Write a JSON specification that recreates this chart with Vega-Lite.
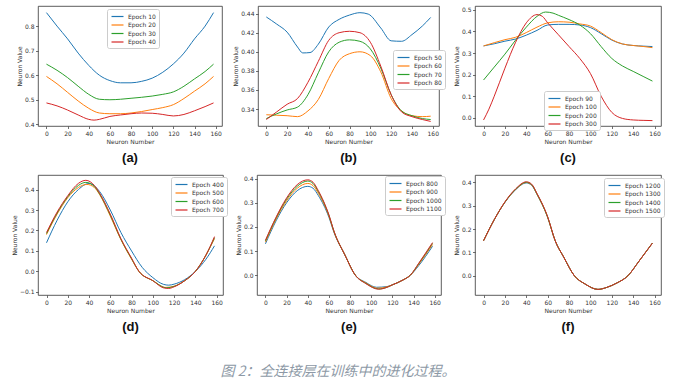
{
  "$schema": "https://vega.github.io/schema/vega-lite/v6.json",
  "padding": {"left": 11, "top": 5, "right": 30, "bottom": 10},
  "background": "white",
  "title": {"text": "图 2：全连接层在训练中的进化过程。", "orient": "bottom", "anchor": "middle", "font": "Noto Sans CJK SC", "fontSize": 14, "fontStyle": "italic", "fontWeight": "normal", "color": "#8d99a6", "offset": 31},
  "datasets": {
    "a": [
      {"x":0,"y":0.855,"s":"Epoch 10"},{"x":10,"y":0.80,"s":"Epoch 10"},{"x":20,"y":0.748,"s":"Epoch 10"},{"x":30,"y":0.69,"s":"Epoch 10"},{"x":40,"y":0.64,"s":"Epoch 10"},{"x":50,"y":0.60,"s":"Epoch 10"},{"x":60,"y":0.578,"s":"Epoch 10"},{"x":70,"y":0.569,"s":"Epoch 10"},{"x":80,"y":0.569,"s":"Epoch 10"},{"x":90,"y":0.575,"s":"Epoch 10"},{"x":100,"y":0.588,"s":"Epoch 10"},{"x":110,"y":0.612,"s":"Epoch 10"},{"x":120,"y":0.646,"s":"Epoch 10"},{"x":130,"y":0.69,"s":"Epoch 10"},{"x":140,"y":0.748,"s":"Epoch 10"},{"x":150,"y":0.80,"s":"Epoch 10"},{"x":158,"y":0.855,"s":"Epoch 10"},
      {"x":0,"y":0.595,"s":"Epoch 20"},{"x":10,"y":0.565,"s":"Epoch 20"},{"x":20,"y":0.53,"s":"Epoch 20"},{"x":30,"y":0.495,"s":"Epoch 20"},{"x":40,"y":0.465,"s":"Epoch 20"},{"x":50,"y":0.446,"s":"Epoch 20"},{"x":60,"y":0.443,"s":"Epoch 20"},{"x":70,"y":0.443,"s":"Epoch 20"},{"x":80,"y":0.446,"s":"Epoch 20"},{"x":90,"y":0.452,"s":"Epoch 20"},{"x":100,"y":0.46,"s":"Epoch 20"},{"x":110,"y":0.468,"s":"Epoch 20"},{"x":120,"y":0.48,"s":"Epoch 20"},{"x":130,"y":0.505,"s":"Epoch 20"},{"x":140,"y":0.535,"s":"Epoch 20"},{"x":150,"y":0.565,"s":"Epoch 20"},{"x":158,"y":0.595,"s":"Epoch 20"},
      {"x":0,"y":0.645,"s":"Epoch 30"},{"x":10,"y":0.62,"s":"Epoch 30"},{"x":20,"y":0.59,"s":"Epoch 30"},{"x":30,"y":0.555,"s":"Epoch 30"},{"x":40,"y":0.522,"s":"Epoch 30"},{"x":50,"y":0.502,"s":"Epoch 30"},{"x":60,"y":0.50,"s":"Epoch 30"},{"x":70,"y":0.502,"s":"Epoch 30"},{"x":80,"y":0.506,"s":"Epoch 30"},{"x":90,"y":0.51,"s":"Epoch 30"},{"x":100,"y":0.515,"s":"Epoch 30"},{"x":110,"y":0.522,"s":"Epoch 30"},{"x":120,"y":0.532,"s":"Epoch 30"},{"x":130,"y":0.555,"s":"Epoch 30"},{"x":140,"y":0.585,"s":"Epoch 30"},{"x":150,"y":0.615,"s":"Epoch 30"},{"x":158,"y":0.645,"s":"Epoch 30"},
      {"x":0,"y":0.487,"s":"Epoch 40"},{"x":10,"y":0.475,"s":"Epoch 40"},{"x":20,"y":0.458,"s":"Epoch 40"},{"x":30,"y":0.438,"s":"Epoch 40"},{"x":40,"y":0.42,"s":"Epoch 40"},{"x":45,"y":0.417,"s":"Epoch 40"},{"x":50,"y":0.42,"s":"Epoch 40"},{"x":60,"y":0.432,"s":"Epoch 40"},{"x":70,"y":0.438,"s":"Epoch 40"},{"x":80,"y":0.443,"s":"Epoch 40"},{"x":90,"y":0.446,"s":"Epoch 40"},{"x":100,"y":0.445,"s":"Epoch 40"},{"x":110,"y":0.44,"s":"Epoch 40"},{"x":120,"y":0.434,"s":"Epoch 40"},{"x":130,"y":0.44,"s":"Epoch 40"},{"x":140,"y":0.455,"s":"Epoch 40"},{"x":150,"y":0.472,"s":"Epoch 40"},{"x":158,"y":0.487,"s":"Epoch 40"}
    ],
    "b": [
      {"x":0,"y":0.4365,"s":"Epoch 50"},{"x":10,"y":0.429,"s":"Epoch 50"},{"x":20,"y":0.4206,"s":"Epoch 50"},{"x":30,"y":0.405,"s":"Epoch 50"},{"x":35,"y":0.3988,"s":"Epoch 50"},{"x":42,"y":0.3992,"s":"Epoch 50"},{"x":50,"y":0.408,"s":"Epoch 50"},{"x":60,"y":0.426,"s":"Epoch 50"},{"x":70,"y":0.434,"s":"Epoch 50"},{"x":80,"y":0.4385,"s":"Epoch 50"},{"x":90,"y":0.441,"s":"Epoch 50"},{"x":98,"y":0.4395,"s":"Epoch 50"},{"x":110,"y":0.425,"s":"Epoch 50"},{"x":120,"y":0.4115,"s":"Epoch 50"},{"x":130,"y":0.411,"s":"Epoch 50"},{"x":140,"y":0.418,"s":"Epoch 50"},{"x":150,"y":0.427,"s":"Epoch 50"},{"x":158,"y":0.436,"s":"Epoch 50"},
      {"x":0,"y":0.334,"s":"Epoch 60"},{"x":10,"y":0.3335,"s":"Epoch 60"},{"x":20,"y":0.333,"s":"Epoch 60"},{"x":30,"y":0.332,"s":"Epoch 60"},{"x":40,"y":0.338,"s":"Epoch 60"},{"x":50,"y":0.35,"s":"Epoch 60"},{"x":60,"y":0.372,"s":"Epoch 60"},{"x":70,"y":0.391,"s":"Epoch 60"},{"x":80,"y":0.398,"s":"Epoch 60"},{"x":90,"y":0.4,"s":"Epoch 60"},{"x":100,"y":0.396,"s":"Epoch 60"},{"x":110,"y":0.379,"s":"Epoch 60"},{"x":120,"y":0.351,"s":"Epoch 60"},{"x":130,"y":0.338,"s":"Epoch 60"},{"x":140,"y":0.333,"s":"Epoch 60"},{"x":150,"y":0.332,"s":"Epoch 60"},{"x":158,"y":0.3325,"s":"Epoch 60"},
      {"x":0,"y":0.330,"s":"Epoch 70"},{"x":10,"y":0.335,"s":"Epoch 70"},{"x":20,"y":0.339,"s":"Epoch 70"},{"x":30,"y":0.342,"s":"Epoch 70"},{"x":40,"y":0.355,"s":"Epoch 70"},{"x":50,"y":0.378,"s":"Epoch 70"},{"x":60,"y":0.4,"s":"Epoch 70"},{"x":70,"y":0.41,"s":"Epoch 70"},{"x":80,"y":0.4125,"s":"Epoch 70"},{"x":90,"y":0.411,"s":"Epoch 70"},{"x":100,"y":0.403,"s":"Epoch 70"},{"x":110,"y":0.383,"s":"Epoch 70"},{"x":120,"y":0.355,"s":"Epoch 70"},{"x":130,"y":0.338,"s":"Epoch 70"},{"x":140,"y":0.333,"s":"Epoch 70"},{"x":150,"y":0.330,"s":"Epoch 70"},{"x":158,"y":0.329,"s":"Epoch 70"},
      {"x":0,"y":0.329,"s":"Epoch 80"},{"x":10,"y":0.337,"s":"Epoch 80"},{"x":20,"y":0.345,"s":"Epoch 80"},{"x":30,"y":0.351,"s":"Epoch 80"},{"x":40,"y":0.368,"s":"Epoch 80"},{"x":50,"y":0.39,"s":"Epoch 80"},{"x":60,"y":0.412,"s":"Epoch 80"},{"x":70,"y":0.42,"s":"Epoch 80"},{"x":80,"y":0.4215,"s":"Epoch 80"},{"x":90,"y":0.42,"s":"Epoch 80"},{"x":100,"y":0.41,"s":"Epoch 80"},{"x":110,"y":0.385,"s":"Epoch 80"},{"x":120,"y":0.355,"s":"Epoch 80"},{"x":130,"y":0.337,"s":"Epoch 80"},{"x":140,"y":0.332,"s":"Epoch 80"},{"x":150,"y":0.329,"s":"Epoch 80"},{"x":158,"y":0.327,"s":"Epoch 80"}
    ],
    "c": [
      {"x":0,"y":0.333,"s":"Epoch 90"},{"x":10,"y":0.343,"s":"Epoch 90"},{"x":20,"y":0.355,"s":"Epoch 90"},{"x":30,"y":0.365,"s":"Epoch 90"},{"x":40,"y":0.383,"s":"Epoch 90"},{"x":50,"y":0.405,"s":"Epoch 90"},{"x":60,"y":0.43,"s":"Epoch 90"},{"x":70,"y":0.433,"s":"Epoch 90"},{"x":80,"y":0.433,"s":"Epoch 90"},{"x":90,"y":0.43,"s":"Epoch 90"},{"x":100,"y":0.418,"s":"Epoch 90"},{"x":110,"y":0.39,"s":"Epoch 90"},{"x":120,"y":0.36,"s":"Epoch 90"},{"x":130,"y":0.342,"s":"Epoch 90"},{"x":140,"y":0.335,"s":"Epoch 90"},{"x":150,"y":0.332,"s":"Epoch 90"},{"x":158,"y":0.33,"s":"Epoch 90"},
      {"x":0,"y":0.333,"s":"Epoch 100"},{"x":10,"y":0.348,"s":"Epoch 100"},{"x":20,"y":0.362,"s":"Epoch 100"},{"x":30,"y":0.373,"s":"Epoch 100"},{"x":40,"y":0.395,"s":"Epoch 100"},{"x":50,"y":0.42,"s":"Epoch 100"},{"x":60,"y":0.44,"s":"Epoch 100"},{"x":70,"y":0.445,"s":"Epoch 100"},{"x":80,"y":0.443,"s":"Epoch 100"},{"x":90,"y":0.435,"s":"Epoch 100"},{"x":100,"y":0.425,"s":"Epoch 100"},{"x":110,"y":0.395,"s":"Epoch 100"},{"x":120,"y":0.362,"s":"Epoch 100"},{"x":130,"y":0.342,"s":"Epoch 100"},{"x":140,"y":0.335,"s":"Epoch 100"},{"x":150,"y":0.33,"s":"Epoch 100"},{"x":158,"y":0.325,"s":"Epoch 100"},
      {"x":0,"y":0.175,"s":"Epoch 200"},{"x":10,"y":0.235,"s":"Epoch 200"},{"x":20,"y":0.295,"s":"Epoch 200"},{"x":30,"y":0.36,"s":"Epoch 200"},{"x":40,"y":0.42,"s":"Epoch 200"},{"x":50,"y":0.47,"s":"Epoch 200"},{"x":58,"y":0.49,"s":"Epoch 200"},{"x":65,"y":0.485,"s":"Epoch 200"},{"x":70,"y":0.475,"s":"Epoch 200"},{"x":80,"y":0.455,"s":"Epoch 200"},{"x":90,"y":0.43,"s":"Epoch 200"},{"x":100,"y":0.39,"s":"Epoch 200"},{"x":110,"y":0.33,"s":"Epoch 200"},{"x":120,"y":0.275,"s":"Epoch 200"},{"x":130,"y":0.24,"s":"Epoch 200"},{"x":140,"y":0.215,"s":"Epoch 200"},{"x":150,"y":0.19,"s":"Epoch 200"},{"x":158,"y":0.17,"s":"Epoch 200"},
      {"x":0,"y":-0.01,"s":"Epoch 300"},{"x":5,"y":0.04,"s":"Epoch 300"},{"x":10,"y":0.1,"s":"Epoch 300"},{"x":20,"y":0.23,"s":"Epoch 300"},{"x":30,"y":0.35,"s":"Epoch 300"},{"x":40,"y":0.44,"s":"Epoch 300"},{"x":50,"y":0.478,"s":"Epoch 300"},{"x":55,"y":0.47,"s":"Epoch 300"},{"x":60,"y":0.44,"s":"Epoch 300"},{"x":70,"y":0.385,"s":"Epoch 300"},{"x":80,"y":0.33,"s":"Epoch 300"},{"x":90,"y":0.275,"s":"Epoch 300"},{"x":100,"y":0.205,"s":"Epoch 300"},{"x":110,"y":0.1,"s":"Epoch 300"},{"x":120,"y":0.025,"s":"Epoch 300"},{"x":130,"y":-0.003,"s":"Epoch 300"},{"x":140,"y":-0.01,"s":"Epoch 300"},{"x":150,"y":-0.012,"s":"Epoch 300"},{"x":158,"y":-0.013,"s":"Epoch 300"}
    ],
    "d": [
      {"x":0,"y":0.14,"s":"Epoch 400"},{"x":10,"y":0.25,"s":"Epoch 400"},{"x":20,"y":0.34,"s":"Epoch 400"},{"x":30,"y":0.4,"s":"Epoch 400"},{"x":40,"y":0.43,"s":"Epoch 400"},{"x":50,"y":0.39,"s":"Epoch 400"},{"x":60,"y":0.30,"s":"Epoch 400"},{"x":70,"y":0.19,"s":"Epoch 400"},{"x":80,"y":0.1,"s":"Epoch 400"},{"x":90,"y":0.02,"s":"Epoch 400"},{"x":100,"y":-0.03,"s":"Epoch 400"},{"x":110,"y":-0.063,"s":"Epoch 400"},{"x":115,"y":-0.067,"s":"Epoch 400"},{"x":120,"y":-0.062,"s":"Epoch 400"},{"x":130,"y":-0.04,"s":"Epoch 400"},{"x":140,"y":0.0,"s":"Epoch 400"},{"x":150,"y":0.06,"s":"Epoch 400"},{"x":158,"y":0.125,"s":"Epoch 400"},
      {"x":0,"y":0.18,"s":"Epoch 500"},{"x":10,"y":0.28,"s":"Epoch 500"},{"x":20,"y":0.36,"s":"Epoch 500"},{"x":30,"y":0.41,"s":"Epoch 500"},{"x":38,"y":0.425,"s":"Epoch 500"},{"x":45,"y":0.41,"s":"Epoch 500"},{"x":50,"y":0.375,"s":"Epoch 500"},{"x":60,"y":0.27,"s":"Epoch 500"},{"x":70,"y":0.155,"s":"Epoch 500"},{"x":80,"y":0.06,"s":"Epoch 500"},{"x":87,"y":0.0,"s":"Epoch 500"},{"x":100,"y":-0.045,"s":"Epoch 500"},{"x":112,"y":-0.078,"s":"Epoch 500"},{"x":120,"y":-0.072,"s":"Epoch 500"},{"x":130,"y":-0.045,"s":"Epoch 500"},{"x":140,"y":0.0,"s":"Epoch 500"},{"x":150,"y":0.08,"s":"Epoch 500"},{"x":158,"y":0.16,"s":"Epoch 500"},
      {"x":0,"y":0.185,"s":"Epoch 600"},{"x":10,"y":0.285,"s":"Epoch 600"},{"x":20,"y":0.365,"s":"Epoch 600"},{"x":30,"y":0.42,"s":"Epoch 600"},{"x":37,"y":0.435,"s":"Epoch 600"},{"x":45,"y":0.415,"s":"Epoch 600"},{"x":50,"y":0.378,"s":"Epoch 600"},{"x":60,"y":0.275,"s":"Epoch 600"},{"x":70,"y":0.157,"s":"Epoch 600"},{"x":80,"y":0.062,"s":"Epoch 600"},{"x":87,"y":0.0,"s":"Epoch 600"},{"x":100,"y":-0.045,"s":"Epoch 600"},{"x":113,"y":-0.08,"s":"Epoch 600"},{"x":120,"y":-0.073,"s":"Epoch 600"},{"x":130,"y":-0.045,"s":"Epoch 600"},{"x":140,"y":0.0,"s":"Epoch 600"},{"x":150,"y":0.08,"s":"Epoch 600"},{"x":158,"y":0.165,"s":"Epoch 600"},
      {"x":0,"y":0.19,"s":"Epoch 700"},{"x":10,"y":0.29,"s":"Epoch 700"},{"x":20,"y":0.37,"s":"Epoch 700"},{"x":30,"y":0.43,"s":"Epoch 700"},{"x":37,"y":0.445,"s":"Epoch 700"},{"x":45,"y":0.42,"s":"Epoch 700"},{"x":50,"y":0.382,"s":"Epoch 700"},{"x":60,"y":0.28,"s":"Epoch 700"},{"x":70,"y":0.16,"s":"Epoch 700"},{"x":80,"y":0.065,"s":"Epoch 700"},{"x":87,"y":0.0,"s":"Epoch 700"},{"x":100,"y":-0.045,"s":"Epoch 700"},{"x":110,"y":-0.08,"s":"Epoch 700"},{"x":115,"y":-0.083,"s":"Epoch 700"},{"x":120,"y":-0.075,"s":"Epoch 700"},{"x":130,"y":-0.045,"s":"Epoch 700"},{"x":140,"y":0.0,"s":"Epoch 700"},{"x":150,"y":0.08,"s":"Epoch 700"},{"x":158,"y":0.17,"s":"Epoch 700"}
    ],
    "e": [
      {"x":0,"y":0.13,"s":"Epoch 800"},{"x":10,"y":0.225,"s":"Epoch 800"},{"x":20,"y":0.3,"s":"Epoch 800"},{"x":30,"y":0.35,"s":"Epoch 800"},{"x":40,"y":0.368,"s":"Epoch 800"},{"x":45,"y":0.36,"s":"Epoch 800"},{"x":50,"y":0.33,"s":"Epoch 800"},{"x":60,"y":0.24,"s":"Epoch 800"},{"x":65,"y":0.175,"s":"Epoch 800"},{"x":75,"y":0.085,"s":"Epoch 800"},{"x":85,"y":0.0,"s":"Epoch 800"},{"x":95,"y":-0.03,"s":"Epoch 800"},{"x":105,"y":-0.05,"s":"Epoch 800"},{"x":115,"y":-0.047,"s":"Epoch 800"},{"x":120,"y":-0.04,"s":"Epoch 800"},{"x":130,"y":-0.02,"s":"Epoch 800"},{"x":137,"y":0.0,"s":"Epoch 800"},{"x":145,"y":0.04,"s":"Epoch 800"},{"x":158,"y":0.12,"s":"Epoch 800"},
      {"x":0,"y":0.137,"s":"Epoch 900"},{"x":10,"y":0.232,"s":"Epoch 900"},{"x":20,"y":0.308,"s":"Epoch 900"},{"x":30,"y":0.36,"s":"Epoch 900"},{"x":40,"y":0.38,"s":"Epoch 900"},{"x":45,"y":0.371,"s":"Epoch 900"},{"x":50,"y":0.339,"s":"Epoch 900"},{"x":60,"y":0.245,"s":"Epoch 900"},{"x":65,"y":0.177,"s":"Epoch 900"},{"x":75,"y":0.085,"s":"Epoch 900"},{"x":85,"y":0.0,"s":"Epoch 900"},{"x":95,"y":-0.032,"s":"Epoch 900"},{"x":106,"y":-0.054,"s":"Epoch 900"},{"x":115,"y":-0.048,"s":"Epoch 900"},{"x":120,"y":-0.04,"s":"Epoch 900"},{"x":130,"y":-0.02,"s":"Epoch 900"},{"x":137,"y":0.0,"s":"Epoch 900"},{"x":145,"y":0.045,"s":"Epoch 900"},{"x":158,"y":0.127,"s":"Epoch 900"},
      {"x":0,"y":0.142,"s":"Epoch 1000"},{"x":10,"y":0.237,"s":"Epoch 1000"},{"x":20,"y":0.315,"s":"Epoch 1000"},{"x":30,"y":0.368,"s":"Epoch 1000"},{"x":40,"y":0.39,"s":"Epoch 1000"},{"x":45,"y":0.38,"s":"Epoch 1000"},{"x":50,"y":0.346,"s":"Epoch 1000"},{"x":60,"y":0.248,"s":"Epoch 1000"},{"x":65,"y":0.179,"s":"Epoch 1000"},{"x":75,"y":0.085,"s":"Epoch 1000"},{"x":85,"y":0.0,"s":"Epoch 1000"},{"x":95,"y":-0.034,"s":"Epoch 1000"},{"x":107,"y":-0.057,"s":"Epoch 1000"},{"x":115,"y":-0.05,"s":"Epoch 1000"},{"x":120,"y":-0.04,"s":"Epoch 1000"},{"x":130,"y":-0.02,"s":"Epoch 1000"},{"x":137,"y":0.0,"s":"Epoch 1000"},{"x":145,"y":0.048,"s":"Epoch 1000"},{"x":158,"y":0.132,"s":"Epoch 1000"},
      {"x":0,"y":0.145,"s":"Epoch 1100"},{"x":10,"y":0.24,"s":"Epoch 1100"},{"x":20,"y":0.32,"s":"Epoch 1100"},{"x":30,"y":0.375,"s":"Epoch 1100"},{"x":40,"y":0.395,"s":"Epoch 1100"},{"x":45,"y":0.385,"s":"Epoch 1100"},{"x":50,"y":0.35,"s":"Epoch 1100"},{"x":60,"y":0.25,"s":"Epoch 1100"},{"x":65,"y":0.18,"s":"Epoch 1100"},{"x":75,"y":0.085,"s":"Epoch 1100"},{"x":85,"y":0.0,"s":"Epoch 1100"},{"x":95,"y":-0.035,"s":"Epoch 1100"},{"x":107,"y":-0.058,"s":"Epoch 1100"},{"x":115,"y":-0.05,"s":"Epoch 1100"},{"x":120,"y":-0.04,"s":"Epoch 1100"},{"x":130,"y":-0.02,"s":"Epoch 1100"},{"x":137,"y":0.0,"s":"Epoch 1100"},{"x":145,"y":0.05,"s":"Epoch 1100"},{"x":158,"y":0.135,"s":"Epoch 1100"}
    ],
    "f": [
      {"x":0,"y":0.15,"s":"Epoch 1200"},{"x":10,"y":0.24,"s":"Epoch 1200"},{"x":20,"y":0.314,"s":"Epoch 1200"},{"x":30,"y":0.368,"s":"Epoch 1200"},{"x":40,"y":0.397,"s":"Epoch 1200"},{"x":45,"y":0.387,"s":"Epoch 1200"},{"x":50,"y":0.348,"s":"Epoch 1200"},{"x":60,"y":0.25,"s":"Epoch 1200"},{"x":67,"y":0.15,"s":"Epoch 1200"},{"x":75,"y":0.08,"s":"Epoch 1200"},{"x":85,"y":0.0,"s":"Epoch 1200"},{"x":95,"y":-0.035,"s":"Epoch 1200"},{"x":107,"y":-0.058,"s":"Epoch 1200"},{"x":115,"y":-0.05,"s":"Epoch 1200"},{"x":125,"y":-0.03,"s":"Epoch 1200"},{"x":135,"y":0.0,"s":"Epoch 1200"},{"x":145,"y":0.06,"s":"Epoch 1200"},{"x":158,"y":0.14,"s":"Epoch 1200"},
      {"x":0,"y":0.15,"s":"Epoch 1300"},{"x":10,"y":0.24,"s":"Epoch 1300"},{"x":20,"y":0.315,"s":"Epoch 1300"},{"x":30,"y":0.369,"s":"Epoch 1300"},{"x":40,"y":0.399,"s":"Epoch 1300"},{"x":45,"y":0.389,"s":"Epoch 1300"},{"x":50,"y":0.349,"s":"Epoch 1300"},{"x":60,"y":0.25,"s":"Epoch 1300"},{"x":67,"y":0.15,"s":"Epoch 1300"},{"x":75,"y":0.08,"s":"Epoch 1300"},{"x":85,"y":0.0,"s":"Epoch 1300"},{"x":95,"y":-0.035,"s":"Epoch 1300"},{"x":107,"y":-0.058,"s":"Epoch 1300"},{"x":115,"y":-0.05,"s":"Epoch 1300"},{"x":125,"y":-0.03,"s":"Epoch 1300"},{"x":135,"y":0.0,"s":"Epoch 1300"},{"x":145,"y":0.06,"s":"Epoch 1300"},{"x":158,"y":0.14,"s":"Epoch 1300"},
      {"x":0,"y":0.15,"s":"Epoch 1400"},{"x":10,"y":0.24,"s":"Epoch 1400"},{"x":20,"y":0.315,"s":"Epoch 1400"},{"x":30,"y":0.37,"s":"Epoch 1400"},{"x":40,"y":0.4,"s":"Epoch 1400"},{"x":45,"y":0.39,"s":"Epoch 1400"},{"x":50,"y":0.35,"s":"Epoch 1400"},{"x":60,"y":0.25,"s":"Epoch 1400"},{"x":67,"y":0.15,"s":"Epoch 1400"},{"x":75,"y":0.08,"s":"Epoch 1400"},{"x":85,"y":0.0,"s":"Epoch 1400"},{"x":95,"y":-0.035,"s":"Epoch 1400"},{"x":107,"y":-0.058,"s":"Epoch 1400"},{"x":115,"y":-0.05,"s":"Epoch 1400"},{"x":125,"y":-0.03,"s":"Epoch 1400"},{"x":135,"y":0.0,"s":"Epoch 1400"},{"x":145,"y":0.06,"s":"Epoch 1400"},{"x":158,"y":0.14,"s":"Epoch 1400"},
      {"x":0,"y":0.15,"s":"Epoch 1500"},{"x":10,"y":0.24,"s":"Epoch 1500"},{"x":20,"y":0.316,"s":"Epoch 1500"},{"x":30,"y":0.372,"s":"Epoch 1500"},{"x":40,"y":0.402,"s":"Epoch 1500"},{"x":45,"y":0.392,"s":"Epoch 1500"},{"x":50,"y":0.352,"s":"Epoch 1500"},{"x":60,"y":0.252,"s":"Epoch 1500"},{"x":67,"y":0.15,"s":"Epoch 1500"},{"x":75,"y":0.08,"s":"Epoch 1500"},{"x":85,"y":0.0,"s":"Epoch 1500"},{"x":95,"y":-0.035,"s":"Epoch 1500"},{"x":107,"y":-0.058,"s":"Epoch 1500"},{"x":115,"y":-0.05,"s":"Epoch 1500"},{"x":125,"y":-0.03,"s":"Epoch 1500"},{"x":135,"y":0.0,"s":"Epoch 1500"},{"x":145,"y":0.06,"s":"Epoch 1500"},{"x":158,"y":0.14,"s":"Epoch 1500"}
    ]
  },
  "spacing": 8,
  "resolve": {"scale": {"color": "independent"}, "legend": {"color": "independent"}},
  "vconcat": [
    {
      "bounds": "flush",
      "spacing": 36,
      "resolve": {"scale": {"color": "independent"}, "legend": {"color": "independent"}},
      "hconcat": [
        {
          "width": 184, "height": 120,
          "data": {"name": "a"},
          "title": {"text": "(a)", "orient": "bottom", "font": "Liberation Sans", "fontSize": 13, "fontWeight": "bold", "color": "#111", "offset": 8},
          "mark": {"type": "line", "interpolate": "monotone", "strokeWidth": 1},
          "encoding": {
            "x": {"field": "x", "type": "quantitative", "scale": {"domain": [-8, 166], "nice": false, "zero": false}, "axis": {"values": [0,20,40,60,80,100,120,140,160], "title": "Neuron Number"}},
            "y": {"field": "y", "type": "quantitative", "scale": {"domain": [0.393, 0.882], "nice": false, "zero": false}, "axis": {"values": [0.4,0.5,0.6,0.7,0.8], "format": ".1f", "title": "Neuron Value"}},
            "color": {"field": "s", "type": "nominal", "sort": null, "scale": {"domain": ["Epoch 10","Epoch 20","Epoch 30","Epoch 40"], "range": ["#1f77b4","#ff7f0e","#2ca02c","#d62728"]}, "legend": {"title": null, "orient": "none", "legendX": 69, "legendY": 3}}
          }
        },
        {
          "width": 181, "height": 120,
          "data": {"name": "b"},
          "title": {"text": "(b)", "orient": "bottom", "font": "Liberation Sans", "fontSize": 13, "fontWeight": "bold", "color": "#111", "offset": 8},
          "mark": {"type": "line", "interpolate": "monotone", "strokeWidth": 1},
          "encoding": {
            "x": {"field": "x", "type": "quantitative", "scale": {"domain": [-8, 166], "nice": false, "zero": false}, "axis": {"values": [0,20,40,60,80,100,120,140,160], "title": "Neuron Number"}},
            "y": {"field": "y", "type": "quantitative", "scale": {"domain": [0.3222, 0.448], "nice": false, "zero": false}, "axis": {"values": [0.34,0.36,0.38,0.40,0.42,0.44], "format": ".2f", "title": "Neuron Value"}},
            "color": {"field": "s", "type": "nominal", "sort": null, "scale": {"domain": ["Epoch 50","Epoch 60","Epoch 70","Epoch 80"], "range": ["#1f77b4","#ff7f0e","#2ca02c","#d62728"]}, "legend": {"title": null, "orient": "none", "legendX": 135, "legendY": 44}}
          }
        },
        {
          "width": 186, "height": 120,
          "data": {"name": "c"},
          "title": {"text": "(c)", "orient": "bottom", "font": "Liberation Sans", "fontSize": 13, "fontWeight": "bold", "color": "#111", "offset": 8},
          "mark": {"type": "line", "interpolate": "monotone", "strokeWidth": 1},
          "encoding": {
            "x": {"field": "x", "type": "quantitative", "scale": {"domain": [-8, 166], "nice": false, "zero": false}, "axis": {"values": [0,20,40,60,80,100,120,140,160], "title": "Neuron Number"}},
            "y": {"field": "y", "type": "quantitative", "scale": {"domain": [-0.038, 0.518], "nice": false, "zero": false}, "axis": {"values": [0,0.1,0.2,0.3,0.4,0.5], "format": ".1f", "title": "Neuron Value"}},
            "color": {"field": "s", "type": "nominal", "sort": null, "scale": {"domain": ["Epoch 90","Epoch 100","Epoch 200","Epoch 300"], "range": ["#1f77b4","#ff7f0e","#2ca02c","#d62728"]}, "legend": {"title": null, "orient": "none", "legendX": 69, "legendY": 85}}
          }
        }
      ]
    },
    {
      "bounds": "flush",
      "spacing": 34,
      "resolve": {"scale": {"color": "independent"}, "legend": {"color": "independent"}},
      "hconcat": [
        {
          "width": 185, "height": 120,
          "data": {"name": "d"},
          "title": {"text": "(d)", "orient": "bottom", "font": "Liberation Sans", "fontSize": 13, "fontWeight": "bold", "color": "#111", "offset": 8},
          "mark": {"type": "line", "interpolate": "monotone", "strokeWidth": 1},
          "encoding": {
            "x": {"field": "x", "type": "quantitative", "scale": {"domain": [-8, 166], "nice": false, "zero": false}, "axis": {"values": [0,20,40,60,80,100,120,140,160], "title": "Neuron Number"}},
            "y": {"field": "y", "type": "quantitative", "scale": {"domain": [-0.115, 0.471], "nice": false, "zero": false}, "axis": {"values": [-0.1,0,0.1,0.2,0.3,0.4], "format": ".1f", "title": "Neuron Value"}},
            "color": {"field": "s", "type": "nominal", "sort": null, "scale": {"domain": ["Epoch 400","Epoch 500","Epoch 600","Epoch 700"], "range": ["#1f77b4","#ff7f0e","#2ca02c","#d62728"]}, "legend": {"title": null, "orient": "none", "legendX": 133, "legendY": 2}}
          }
        },
        {
          "width": 184, "height": 120,
          "data": {"name": "e"},
          "title": {"text": "(e)", "orient": "bottom", "font": "Liberation Sans", "fontSize": 13, "fontWeight": "bold", "color": "#111", "offset": 8},
          "mark": {"type": "line", "interpolate": "monotone", "strokeWidth": 1},
          "encoding": {
            "x": {"field": "x", "type": "quantitative", "scale": {"domain": [-8, 166], "nice": false, "zero": false}, "axis": {"values": [0,20,40,60,80,100,120,140,160], "title": "Neuron Number"}},
            "y": {"field": "y", "type": "quantitative", "scale": {"domain": [-0.082, 0.415], "nice": false, "zero": false}, "axis": {"values": [0,0.1,0.2,0.3,0.4], "format": ".1f", "title": "Neuron Value"}},
            "color": {"field": "s", "type": "nominal", "sort": null, "scale": {"domain": ["Epoch 800","Epoch 900","Epoch 1000","Epoch 1100"], "range": ["#1f77b4","#ff7f0e","#2ca02c","#d62728"]}, "legend": {"title": null, "orient": "none", "legendX": 128, "legendY": 1}}
          }
        },
        {
          "width": 186, "height": 120,
          "data": {"name": "f"},
          "title": {"text": "(f)", "orient": "bottom", "font": "Liberation Sans", "fontSize": 13, "fontWeight": "bold", "color": "#111", "offset": 8},
          "mark": {"type": "line", "interpolate": "monotone", "strokeWidth": 1},
          "encoding": {
            "x": {"field": "x", "type": "quantitative", "scale": {"domain": [-8, 166], "nice": false, "zero": false}, "axis": {"values": [0,20,40,60,80,100,120,140,160], "title": "Neuron Number"}},
            "y": {"field": "y", "type": "quantitative", "scale": {"domain": [-0.082, 0.431], "nice": false, "zero": false}, "axis": {"values": [0,0.1,0.2,0.3,0.4], "format": ".1f", "title": "Neuron Value"}},
            "color": {"field": "s", "type": "nominal", "sort": null, "scale": {"domain": ["Epoch 1200","Epoch 1300","Epoch 1400","Epoch 1500"], "range": ["#1f77b4","#ff7f0e","#2ca02c","#d62728"]}, "legend": {"title": null, "orient": "none", "legendX": 129, "legendY": 3}}
          }
        }
      ]
    }
  ],
  "config": {
    "font": "DejaVu Sans",
    "view": {"stroke": "#333", "strokeWidth": 0.8},
    "axis": {"labelFontSize": 6, "titleFontSize": 6, "titleFontWeight": "normal", "labelColor": "#333", "titleColor": "#333", "tickColor": "#333", "tickSize": 2.5, "tickWidth": 0.7, "domain": false, "grid": false, "labelPadding": 1.5, "titlePadding": 2},
    "legend": {"labelFontSize": 6, "labelColor": "#333", "symbolType": "M-1.6,0H1.6", "symbolSize": 56, "symbolStrokeWidth": 1.2, "symbolOffset": 3, "strokeColor": "#ccc", "fillColor": "white", "cornerRadius": 2, "padding": 3, "rowPadding": 0.5, "labelOffset": 6}
  }
}
